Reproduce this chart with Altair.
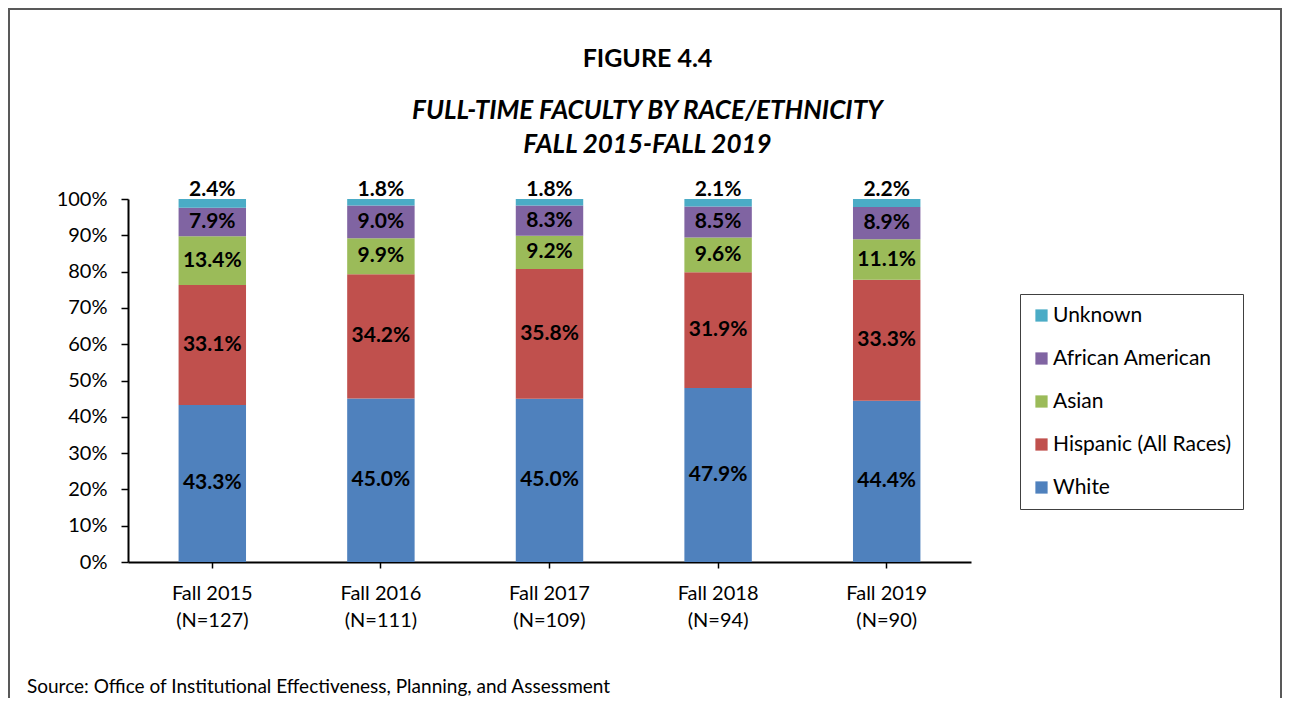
import altair as alt
import pandas as pd

years = ["Fall 2015|(N=127)", "Fall 2016|(N=111)", "Fall 2017|(N=109)", "Fall 2018|(N=94)", "Fall 2019|(N=90)"]
races = ["White", "Hispanic (All Races)", "Asian", "African American", "Unknown"]
colors = ["#4F81BD", "#C0504D", "#9BBB59", "#8064A2", "#4BACC6"]
white = [43.3, 45.0, 45.0, 47.9, 44.4]
hispanic = [33.1, 34.2, 35.8, 31.9, 33.3]
asian = [13.4, 9.9, 9.2, 9.6, 11.1]
african_american = [7.9, 9.0, 8.3, 8.5, 8.9]
unknown = [2.4, 1.8, 1.8, 2.1, 2.2]
source_note = "Source: Office of Institutional Effectiveness, Planning, and Assessment"

series = [white, hispanic, asian, african_american, unknown]
rows = []
for i, (race, vals) in enumerate(zip(races, series)):
    for y, v in zip(years, vals):
        rows.append({"year": y, "race": race, "value": v, "order": i})
df = pd.DataFrame(rows)

FONT = "Lato"

yscale = alt.Scale(domain=[0, 1], nice=False)
yaxis = alt.Axis(format=".0%", values=[i / 10 for i in range(11)], title=None, grid=False,
                 domainColor="black", domainWidth=2, tickColor="black", tickWidth=1.5, tickSize=7,
                 labelPadding=14, labelFontSize=20, labelColor="black", labelFont=FONT)
xaxis = alt.Axis(title=None, labelAngle=0, labelExpr="split(datum.label, '|')", domainColor="black",
                 domainWidth=2, tickColor="black", tickWidth=1.5, tickSize=6, labelPadding=15,
                 labelFontSize=20, labelColor="black", labelFont=FONT, labelLineHeight=27)
xenc = alt.X("year:N", sort=years, axis=xaxis, scale=alt.Scale(paddingInner=0.6, paddingOuter=0.3))

base = alt.Chart(df).transform_stack(
    stack="value", groupby=["year"], as_=["y0", "y1"], offset="normalize",
    sort=[alt.SortField("order", order="ascending")]
).transform_calculate(
    mid="(datum.y0 + datum.y1) / 2",
    lbl="format(datum.value, '.1f') + '%'"
)

legend_domain = list(reversed(races))
legend_range = list(reversed(colors))

bars = base.mark_bar().encode(
    x=xenc,
    y=alt.Y("y0:Q", scale=yscale, axis=yaxis),
    y2="y1:Q",
    color=alt.Color("race:N", scale=alt.Scale(domain=legend_domain, range=legend_range),
                    legend=alt.Legend(title=None, orient="none", legendX=892, legendY=95,
                                      symbolType="square", symbolSize=150, symbolStrokeWidth=0,
                                      labelFontSize=21, labelFont=FONT, labelColor="black",
                                      labelLimit=400, rowPadding=21, padding=11,
                                      strokeColor="#404040", fillColor="white", labelOffset=1)),
    order=alt.Order("order:Q"),
)

inner_text = base.transform_filter("datum.race != 'Unknown'").mark_text(
    fontWeight="bold", fontSize=21, font=FONT, color="black", baseline="middle"
).encode(
    x=xenc,
    y=alt.Y("mid:Q", scale=yscale, axis=yaxis),
    text="lbl:N",
)

top_text = base.transform_filter("datum.race == 'Unknown'").mark_text(
    fontWeight="bold", fontSize=21, font=FONT, color="black", baseline="bottom", dy=1
).encode(
    x=xenc,
    y=alt.Y("y1:Q", scale=yscale, axis=yaxis),
    text="lbl:N",
)

note_df = pd.DataFrame({"t": [source_note]})
note = alt.Chart(note_df).mark_text(
    align="left", baseline="middle", fontSize=19, font=FONT, color="black"
).encode(x=alt.value(-101), y=alt.value(488), text="t:N")

border = alt.Chart(note_df).mark_rect(fill="transparent", stroke="#595959", strokeWidth=2).encode(
    x=alt.value(-119), x2=alt.value(1153), y=alt.value(-190), y2=alt.value(620)
)

chart = alt.layer(border, bars, inner_text, top_text, note).properties(
    width=843, height=363,
    background="white",
    padding={"left": 120, "top": 191, "right": 312, "bottom": 136},
    autosize=alt.AutoSizeParams(type="none"),
    title=alt.TitleParams(
        text="FIGURE 4.4",
        subtitle=["FULL-TIME FACULTY BY RACE/ETHNICITY", "FALL 2015-FALL 2019"],
        anchor="middle", frame="group", dx=98, dy=150, offset=0,
        font=FONT, fontSize=25, fontWeight="bold", color="black",
        subtitleFont=FONT, subtitleFontSize=26, subtitleFontWeight="bold",
        subtitleFontStyle="italic", subtitleColor="black", subtitlePadding=26,
        subtitleLineHeight=34,
    ),
).configure_view(stroke=None)

chart.save("out.html", embed_options={"renderer": "svg", "actions": False})
